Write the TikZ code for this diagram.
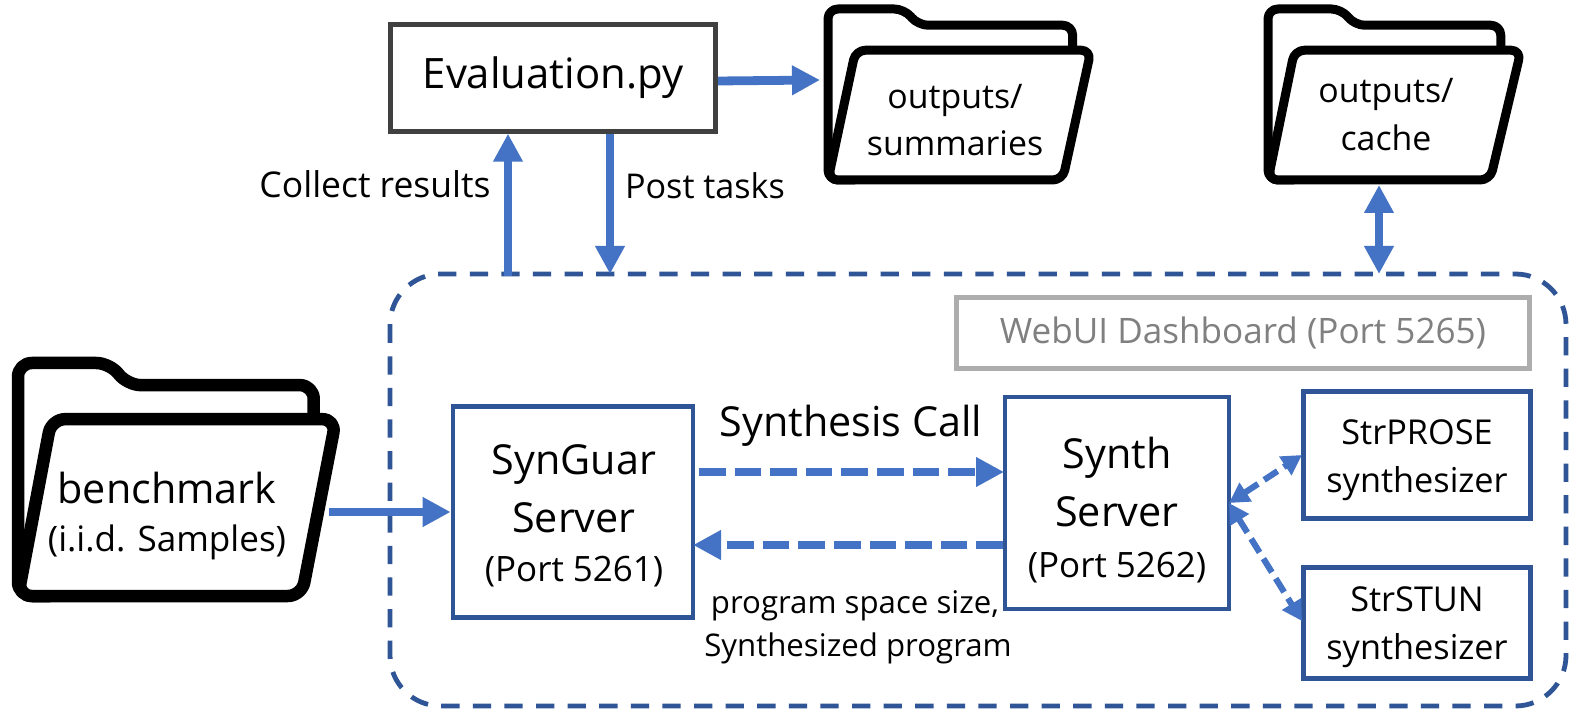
\documentclass[tikz,border=0pt]{standalone}
\usepackage{fontspec}
\setmainfont{Open Sans}
\usetikzlibrary{arrows.meta}
\definecolor{bord}{HTML}{2F5597}
\definecolor{arr}{HTML}{4472C4}
\tikzset{
 px/.style={x=0.75pt,y=-0.75pt},
 sysbox/.style={draw=bord,line width=3.5pt,fill=white,inner sep=0pt,align=center},
 flow/.style={draw=arr,line width=6.6pt,-{Triangle[length=21pt,width=21pt]}},
 flowd/.style={flow,dash pattern=on 20pt off 6.7pt},
 thin2/.style={draw=arr,line width=4.6pt,dash pattern=on 12pt off 5.5pt,{Triangle[length=15pt,width=16pt]}-{Triangle[length=15pt,width=16pt]}},
 dbl/.style={draw=arr,line width=6.6pt,{Triangle[length=21pt,width=21pt]}-{Triangle[length=21pt,width=21pt]}},
 lab/.style={inner sep=0pt,align=center},
}
% #1 left, #2 top, #3 width, #4 height, #5 line width, #6 back right, #7 front bottom right
\newcommand{\folder}[7]{%
 \begin{scope}[shift={(#1,#2)},x=#3*0.75pt,y=-#4*0.75pt,line width=#5*0.75pt,line join=round,line cap=round]
 \draw[fill=white,rounded corners=#5*1.1*0.75pt] (.1,1) -- (0,1) -- (0,0) -- (.29,0) -- (.343,.095) -- (#6,.095) -- (#6,.3);
 \draw[fill=white,rounded corners=#5*1.1*0.75pt] (.105,.241) -- (1.0,.241) -- (#7,1) -- (0,1) -- cycle;
 \end{scope}}
\begin{document}
\begin{tikzpicture}[px]
\useasboundingbox (0,0) rectangle (1581,723);
\fill[white] (0,0) rectangle (1581,723);
\folder{18}{363}{318}{233}{12.5}{.93}{.892}
\folder{828}{9}{263}{171}{9}{.93}{.892}
\folder{1268}{9}{253}{171}{9}{.92}{.878}
\node[lab,font=\fontsize{31pt}{32pt}\selectfont] (bm) at (167,488) {benchmark};
\node[lab,font=\fontsize{26.3pt}{27pt}\selectfont] (iid) at (167,542) {(i.i.d. Samples)};
\node[lab,font=\fontsize{25.4pt}{26pt}\selectfont] (s1) at (955,100) {outputs/};
\node[lab,font=\fontsize{25.4pt}{26pt}\selectfont] (s2) at (955,143) {summaries};
\node[lab,font=\fontsize{25.4pt}{26pt}\selectfont] (c1) at (1386,94) {outputs/};
\node[lab,font=\fontsize{25.4pt}{26pt}\selectfont] (c2) at (1386,138) {cache};
\draw[bord,line width=3.6pt,dash pattern=on 13.7pt off 10pt,rounded corners=38pt] (390,274) rectangle (1566,706);
\coordinate (dashA) at (508,276);
\coordinate (dashB) at (610,274);
\coordinate (dashC) at (1379,274);
\coordinate (cacheB) at (1379,185);
\node[draw=black!75,line width=3.5pt,fill=white,minimum width=244pt,minimum height=80pt,inner sep=0pt,font=\fontsize{31.4pt}{32pt}\selectfont] (ev) at (553,78) {Evaluation.py};
\node[draw=black!32,line width=3.5pt,minimum width=430pt,minimum height=53pt,inner sep=0pt,text=black!50,font=\fontsize{26.3pt}{27pt}\selectfont] (web) at (1243,333) {WebUI Dashboard (Port 5265)};
\node[sysbox,minimum width=180pt,minimum height=158pt] (sg) at (573,512) {};
\node[lab,font=\fontsize{31pt}{32pt}\selectfont] at (574,464) {SynGuar};
\node[lab,font=\fontsize{31pt}{32pt}\selectfont] at (574,518) {Server};
\node[lab,font=\fontsize{26.2pt}{27pt}\selectfont] at (574,572) {(Port 5261)};
\node[sysbox,minimum width=168pt,minimum height=159pt] (sy) at (1117,503) {};
\node[lab,font=\fontsize{31pt}{32pt}\selectfont] at (1117,458) {Synth};
\node[lab,font=\fontsize{31pt}{32pt}\selectfont] at (1117,512) {Server};
\node[lab,font=\fontsize{26.2pt}{27pt}\selectfont] at (1117,568) {(Port 5262)};
\node[sysbox,minimum width=170pt,minimum height=95pt] (sp) at (1417,455) {};
\node[lab,font=\fontsize{25.7pt}{26pt}\selectfont] at (1417,432) {StrPROSE};
\node[lab,font=\fontsize{25.7pt}{26pt}\selectfont] at (1417,484) {synthesizer};
\node[sysbox,minimum width=170pt,minimum height=83pt] (st) at (1417,623) {};
\node[lab,font=\fontsize{25.7pt}{26pt}\selectfont] at (1417,599) {StrSTUN};
\node[lab,font=\fontsize{25.7pt}{26pt}\selectfont] at (1417,651) {synthesizer};
\coordinate (a1) at (329,512);
\draw[flow] (a1) -- (sg.west);
\coordinate (e1) at (715,81);
\coordinate (e2) at (820,80);
\draw[flow] (ev.east |- e1) -- (e2);
\draw[flow] (dashA) -- (dashA |- ev.south);
\draw[flow] (dashB |- ev.south) -- (dashB);
\draw[dbl] (cacheB) -- (dashC);
\coordinate (f1) at (699,472);
\coordinate (f2) at (1004,472);
\draw[flowd] (f1) -- (f2);
\coordinate (g1) at (1003,545);
\coordinate (g2) at (693,545);
\draw[flowd] (g1) -- (g2);
\coordinate (h0) at (1229,503);
\coordinate (h1) at (1302,455);
\coordinate (h2) at (1302,621);
\draw[thin2] (h0) -- (h1);
\draw[thin2] (h0) -- (h2);
\node[lab,font=\fontsize{26.6pt}{27pt}\selectfont] at (375,184) {Collect results};
\node[lab,font=\fontsize{25.6pt}{26pt}\selectfont] at (705,186) {Post tasks};
\node[lab,font=\fontsize{31pt}{32pt}\selectfont] at (851,426) {Synthesis Call};
\node[lab,font=\fontsize{23.4pt}{24pt}\selectfont] at (855,606) {program space size,};
\node[lab,font=\fontsize{23.4pt}{24pt}\selectfont] at (858,648) {Synthesized program};
\end{tikzpicture}
\end{document}
